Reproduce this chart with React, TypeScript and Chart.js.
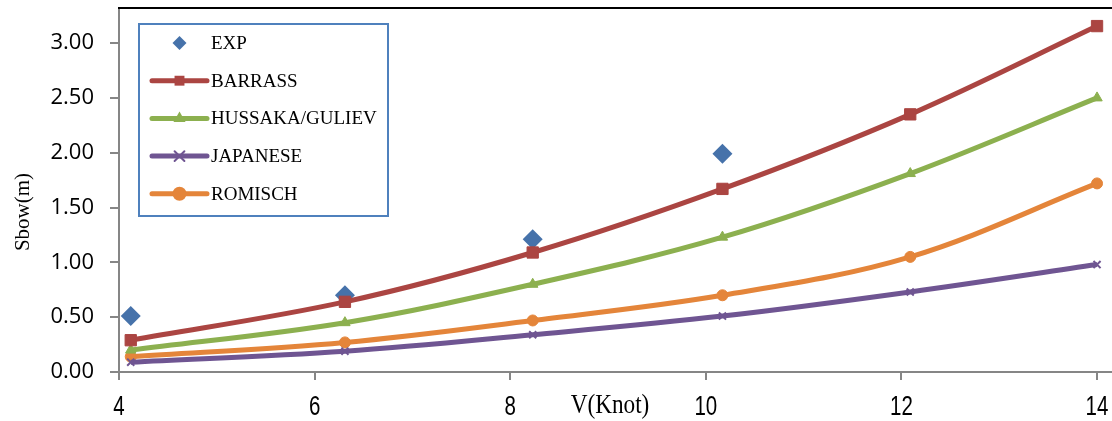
import React, { useEffect, useRef } from "react";
import { Chart, registerables } from "chart.js";

Chart.register(...registerables);

// ---- data ----
const speeds = [4.12, 6.31, 8.23, 10.17, 12.09, 14.0];
const expSpeeds = [4.12, 6.31, 8.23, 10.17];
const expValues = [0.51, 0.7, 1.21, 1.99];
const barrassValues = [0.29, 0.64, 1.09, 1.67, 2.35, 3.155];
const hussakaValues = [0.2, 0.45, 0.8, 1.23, 1.81, 2.5];
const japaneseValues = [0.09, 0.19, 0.34, 0.51, 0.73, 0.98];
const romischValues = [0.14, 0.27, 0.47, 0.7, 1.05, 1.72];
const xTickValues = [4, 6, 8, 10, 12, 14];
const yTickValues = [0, 0.5, 1, 1.5, 2, 2.5, 3];
const seriesNames = ["EXP", "BARRASS", "HUSSAKA/GULIEV", "JAPANESE", "ROMISCH"];
const xTitle = "V(Knot)";
const yTitle = "Sbow(m)";

const COLORS = {
  exp: "#4672AA",
  barrass: "#AB4542",
  hussaka: "#8CB04F",
  japanese: "#6F5592",
  romisch: "#E4853A",
  axis: "#868686",
  legendBorder: "#4F81BD",
};

const toPoints = (xs: number[], ys: number[]) => ys.map((y, i) => ({ x: xs[i], y }));

function drawMarker(ctx: CanvasRenderingContext2D, style: string, x: number, y: number, r: number, color: string) {
  ctx.save();
  ctx.fillStyle = color;
  ctx.strokeStyle = color;
  ctx.lineWidth = 2;
  ctx.beginPath();
  if (style === "rectRot") {
    ctx.moveTo(x, y - r);
    ctx.lineTo(x + r, y);
    ctx.lineTo(x, y + r);
    ctx.lineTo(x - r, y);
    ctx.closePath();
    ctx.fill();
  } else if (style === "rect") {
    const s = r * Math.SQRT1_2;
    ctx.rect(x - s, y - s, 2 * s, 2 * s);
    ctx.fill();
  } else if (style === "triangle") {
    ctx.moveTo(x, y - r);
    ctx.lineTo(x + r * 0.87, y + r * 0.5);
    ctx.lineTo(x - r * 0.87, y + r * 0.5);
    ctx.closePath();
    ctx.fill();
  } else if (style === "crossRot") {
    const s = r * 0.7;
    ctx.moveTo(x - s, y - s);
    ctx.lineTo(x + s, y + s);
    ctx.moveTo(x + s, y - s);
    ctx.lineTo(x - s, y + s);
    ctx.stroke();
  } else {
    ctx.arc(x, y, r, 0, Math.PI * 2);
    ctx.fill();
  }
  ctx.restore();
}

const decorPlugin = {
  id: "decor",
  afterDraw(chart: any) {
    const { ctx, chartArea } = chart;
    const xs = chart.scales.x;
    ctx.save();
    // top border of the plot
    ctx.strokeStyle = "#000000";
    ctx.lineWidth = 2;
    ctx.beginPath();
    ctx.moveTo(chartArea.left - 1, chartArea.top);
    ctx.lineTo(chartArea.right, chartArea.top);
    ctx.stroke();

    // x tick labels (condensed look)
    ctx.fillStyle = "#000000";
    ctx.font = '27px "Liberation Sans", sans-serif';
    ctx.textAlign = "center";
    ctx.textBaseline = "middle";
    xTickValues.forEach((v) => {
      ctx.save();
      ctx.translate(xs.getPixelForValue(v), chartArea.bottom + 36);
      ctx.scale(0.76, 1);
      ctx.fillText(String(v), 0, 0);
      ctx.restore();
    });

    // y title
    ctx.font = '21px "Liberation Serif", serif';
    ctx.save();
    ctx.translate(23, (chartArea.top + chartArea.bottom) / 2 + 22);
    ctx.rotate(-Math.PI / 2);
    ctx.fillText(yTitle, 0, 0);
    ctx.restore();

    // x title
    ctx.font = '27px "Liberation Serif", serif';
    ctx.save();
    ctx.translate(xs.getPixelForValue(9.02), chartArea.bottom + 34);
    ctx.scale(0.86, 1);
    ctx.fillText(xTitle, 0, 0);
    ctx.restore();

    // legend
    const bx = chartArea.left + 20;
    const by = chartArea.top + 16;
    const bw = 249;
    const bh = 192;
    ctx.fillStyle = "#ffffff";
    ctx.fillRect(bx, by, bw, bh);
    ctx.strokeStyle = COLORS.legendBorder;
    ctx.lineWidth = 2;
    ctx.strokeRect(bx, by, bw, bh);

    const datasets = chart.data.datasets;
    [0, 1, 2, 3, 4].forEach((i, row) => {
      const ds = datasets[i];
      const cy = by + 19 + row * 37.7;
      const lx0 = bx + 13;
      const lx1 = bx + 68;
      const mx = (lx0 + lx1) / 2;
      if (ds.showLine !== false) {
        ctx.strokeStyle = ds.borderColor;
        ctx.lineWidth = 5;
        ctx.lineCap = "round";
        ctx.beginPath();
        ctx.moveTo(lx0, cy);
        ctx.lineTo(lx1, cy);
        ctx.stroke();
        drawMarker(ctx, ds.pointStyle, mx, cy, 7, ds.borderColor);
      } else {
        drawMarker(ctx, ds.pointStyle, mx, cy, 7, ds.backgroundColor);
      }
      ctx.fillStyle = "#000000";
      ctx.font = '19px "Liberation Serif", serif';
      ctx.textAlign = "left";
      ctx.textBaseline = "middle";
      ctx.fillText(seriesNames[i], bx + 72, cy + 1);
    });
    ctx.restore();
  },
};

export default function App() {
  const canvasRef = useRef<HTMLCanvasElement | null>(null);

  useEffect(() => {
    if (!canvasRef.current) return;
    const lineDs = (label: string, values: number[], color: string, pointStyle: string, radius: number) => ({
      label,
      data: toPoints(speeds, values),
      borderColor: color,
      backgroundColor: color,
      borderWidth: 5,
      tension: 0.35,
      pointStyle,
      pointRadius: radius,
      pointBorderWidth: pointStyle === "crossRot" ? 2 : 1,
      pointBackgroundColor: color,
      pointBorderColor: color,
      showLine: true,
      order: 1,
    });

    const chart = new Chart(canvasRef.current, {
      type: "scatter",
      data: {
        datasets: [
          {
            label: seriesNames[0],
            data: toPoints(expSpeeds, expValues),
            showLine: false,
            pointStyle: "rectRot",
            pointRadius: 10,
            backgroundColor: COLORS.exp,
            borderColor: COLORS.exp,
            pointBorderWidth: 0,
            order: 5,
          } as any,
          lineDs(seriesNames[1], barrassValues, COLORS.barrass, "rect", 8),
          lineDs(seriesNames[2], hussakaValues, COLORS.hussaka, "triangle", 6),
          lineDs(seriesNames[3], japaneseValues, COLORS.japanese, "crossRot", 5),
          lineDs(seriesNames[4], romischValues, COLORS.romisch, "circle", 5.5),
        ],
      },
      options: {
        responsive: false,
        animation: false,
        layout: { autoPadding: false, padding: { left: 0, top: 8, right: 0, bottom: 0 } },
        plugins: {
          legend: { display: false },
          tooltip: { enabled: false },
          title: { display: false },
        },
        scales: {
          x: {
            type: "linear",
            min: 4,
            max: 14.153,
            afterFit: (s: any) => {
              s.height = 49;
              s.paddingLeft = 0;
              s.paddingRight = 0;
              s.paddingTop = 0;
              s.paddingBottom = 0;
            },
            afterBuildTicks: (s: any) => {
              s.ticks = xTickValues.map((v) => ({ value: v }));
            },
            grid: {
              display: true,
              drawOnChartArea: false,
              drawTicks: true,
              tickLength: 8,
              color: COLORS.axis,
              lineWidth: 2,
            },
            border: { display: true, color: COLORS.axis, width: 2 },
            ticks: {
              display: false,
            },
          },
          y: {
            type: "linear",
            min: 0,
            max: 3.32,
            afterFit: (s: any) => {
              s.width = 119;
              s.paddingLeft = 0;
              s.paddingRight = 0;
              s.paddingTop = 0;
              s.paddingBottom = 0;
            },
            afterBuildTicks: (s: any) => {
              s.ticks = yTickValues.map((v) => ({ value: v }));
            },
            grid: {
              display: true,
              drawOnChartArea: false,
              drawTicks: true,
              tickLength: 9,
              color: COLORS.axis,
              lineWidth: 2,
            },
            border: { display: true, color: COLORS.axis, width: 2 },
            ticks: {
              color: "#000000",
              padding: 16,
              font: { family: '"Open Sans", "Liberation Sans", sans-serif', size: 22 },
              callback: (v: any) => Number(v).toFixed(2),
            },
          },
        },
      } as any,
      plugins: [decorPlugin],
    });
    return () => chart.destroy();
  }, []);

  return (
    <div style={{ position: "absolute", left: 0, top: 0, width: 1112, height: 421, background: "#ffffff" }}>
      <canvas ref={canvasRef} width={1112} height={421} style={{ display: "block" }} />
    </div>
  );
}
